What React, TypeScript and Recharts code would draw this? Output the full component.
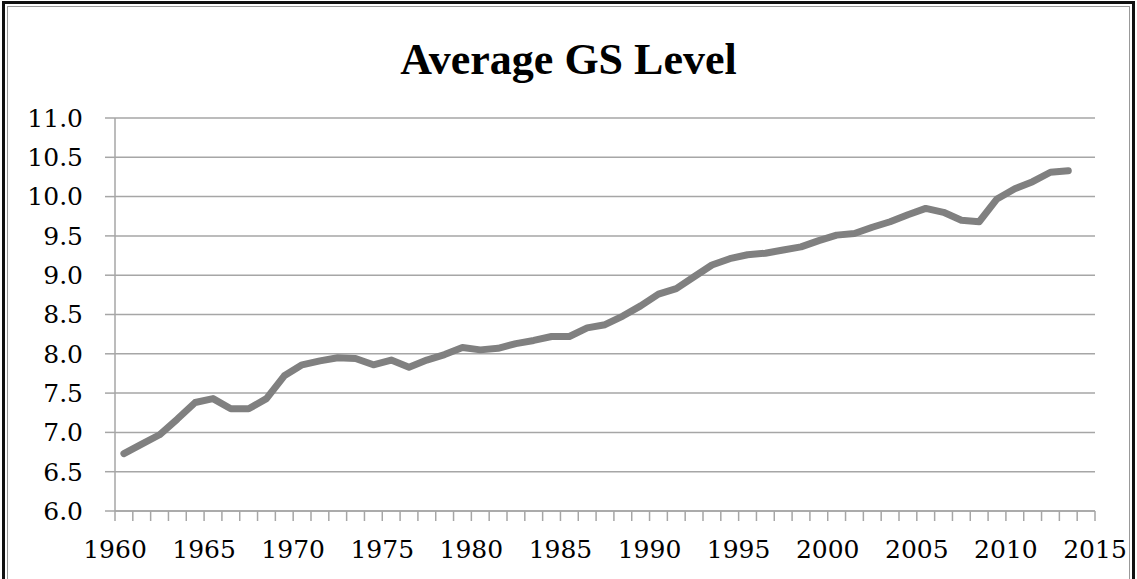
import React from 'react';
import { LineChart, Line, XAxis, YAxis, CartesianGrid } from 'recharts';

const years = [
  1960, 1961, 1962, 1963, 1964, 1965, 1966, 1967, 1968, 1969,
  1970, 1971, 1972, 1973, 1974, 1975, 1976, 1977, 1978, 1979,
  1980, 1981, 1982, 1983, 1984, 1985, 1986, 1987, 1988, 1989,
  1990, 1991, 1992, 1993, 1994, 1995, 1996, 1997, 1998, 1999,
  2000, 2001, 2002, 2003, 2004, 2005, 2006, 2007, 2008, 2009,
  2010, 2011, 2012, 2013,
];

const avgGS = [
  6.73, 6.85, 6.97, 7.17, 7.38, 7.43, 7.30, 7.30, 7.43, 7.72,
  7.86, 7.91, 7.95, 7.94, 7.86, 7.92, 7.83, 7.92, 7.99, 8.08,
  8.05, 8.07, 8.13, 8.17, 8.22, 8.22, 8.33, 8.37, 8.48, 8.61,
  8.76, 8.83, 8.98, 9.13, 9.21, 9.26, 9.28, 9.32, 9.36, 9.44,
  9.51, 9.53, 9.61, 9.68, 9.77, 9.85, 9.80, 9.70, 9.68, 9.97,
  10.10, 10.19, 10.31, 10.33,
];

const xTicks = [
  1960, 1961, 1962, 1963, 1964, 1965, 1966, 1967, 1968, 1969,
  1970, 1971, 1972, 1973, 1974, 1975, 1976, 1977, 1978, 1979,
  1980, 1981, 1982, 1983, 1984, 1985, 1986, 1987, 1988, 1989,
  1990, 1991, 1992, 1993, 1994, 1995, 1996, 1997, 1998, 1999,
  2000, 2001, 2002, 2003, 2004, 2005, 2006, 2007, 2008, 2009,
  2010, 2011, 2012, 2013, 2014, 2015,
];

const yTicks = [6.0, 6.5, 7.0, 7.5, 8.0, 8.5, 9.0, 9.5, 10.0, 10.5, 11.0];

const title = 'Average GS Level';

// Points are plotted at mid-year, as in the original chart
const data = years.map((y, i) => ({ x: y + 0.5, v: avgGS[i] }));

const tickFont = {
  fontFamily: '"DejaVu Serif", serif',
  fontSize: 25,
  fill: '#000',
};

export default function App() {
  return (
    <div
      style={{
        position: 'absolute',
        left: 0,
        top: 0,
        width: 1137,
        height: 579,
        background: '#fff',
        overflow: 'hidden',
      }}
    >
      <div
        style={{
          position: 'absolute',
          left: 2,
          top: 1,
          width: 1133,
          height: 700,
          boxSizing: 'border-box',
          border: '3px solid #111',
          boxShadow: 'inset 0 0 0 2px #fff, inset 0 0 0 3px #999',
        }}
      />
      <div
        style={{
          position: 'absolute',
          left: 0,
          top: 34,
          width: 1137,
          textAlign: 'center',
          fontFamily: '"Liberation Serif", serif',
          fontWeight: 'bold',
          fontSize: 44,
          color: '#000',
          lineHeight: '52px',
        }}
      >
        {title}
      </div>
      <div style={{ position: 'absolute', left: 0, top: 0 }}>
        <LineChart
          width={1137}
          height={579}
          data={data}
          margin={{ top: 118, right: 42, bottom: 8, left: 0 }}
        >
          <CartesianGrid
            horizontal={true}
            vertical={false}
            stroke="#a6a6a6"
            strokeWidth={1.5}
          />
          <XAxis
            type="number"
            dataKey="x"
            domain={[1960, 2015]}
            ticks={xTicks}
            interval={0}
            tickFormatter={(t: number) => (t % 5 === 0 ? String(t) : '')}
            height={60}
            tickSize={10}
            tickMargin={19}
            stroke="#a6a6a6"
            strokeWidth={1.5}
            tick={tickFont}
            allowDataOverflow={true}
          />
          <YAxis
            type="number"
            domain={[6, 11]}
            ticks={yTicks}
            interval={0}
            tickFormatter={(t: number) => t.toFixed(1)}
            width={115}
            tickSize={10}
            tickMargin={22}
            stroke="#a6a6a6"
            strokeWidth={1.5}
            tick={tickFont}
          />
          <Line
            type="linear"
            dataKey="v"
            stroke="#808080"
            strokeWidth={7}
            dot={false}
            strokeLinecap="round"
            strokeLinejoin="round"
            isAnimationActive={false}
          />
        </LineChart>
      </div>
    </div>
  );
}
